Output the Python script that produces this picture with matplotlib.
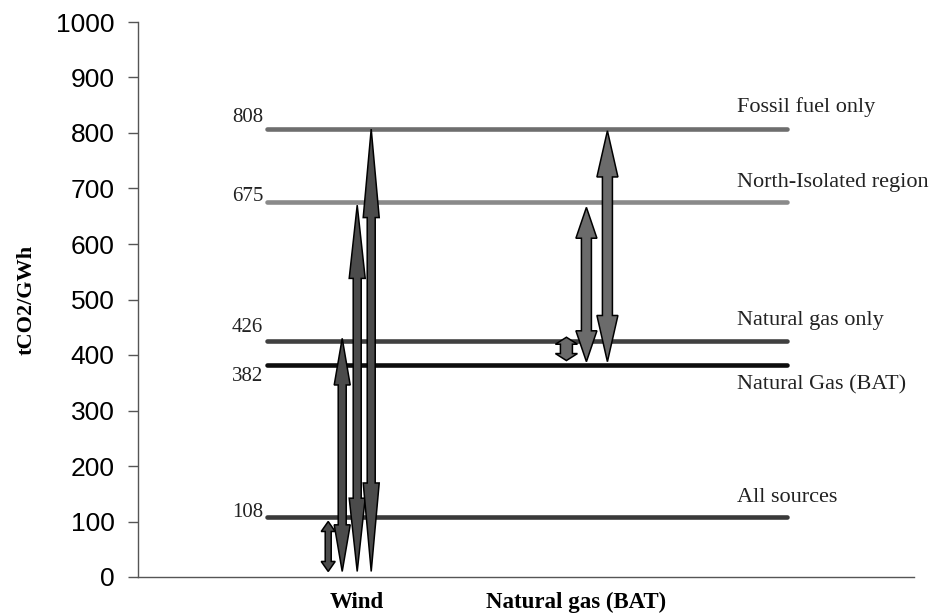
import matplotlib
matplotlib.use("Agg")
import matplotlib.pyplot as plt
from matplotlib.patches import Polygon

# ---- data ----
categories = ["Wind", "Natural gas (BAT)"]
ref_labels = ["Fossil fuel only", "North-Isolated region", "Natural gas only",
              "Natural Gas (BAT)", "All sources"]
ref_values = [808, 675, 426, 382, 108]
wind_low = [10, 10, 10, 10]
wind_high = [100, 430, 670, 807]
ng_low = [390, 388, 388]
ng_high = [432, 666, 804]
yticks = [0, 100, 200, 300, 400, 500, 600, 700, 800, 900, 1000]

# ---- styles ----
line_colors = ["#6e6e6e", "#8a8a8a", "#404040", "#0d0d0d", "#3a3a3a"]
label_dy = [11, 6, 13, -12, 5]        # pixel offsets of value labels
right_dy = [22, 20, 20, -20, 20]      # pixel offsets of right-side labels

W, H, DPI = 938, 613, 100
fig = plt.figure(figsize=(W / DPI, H / DPI), dpi=DPI)
left, right, bottom, top = 138, 914, 577, 22
ax = fig.add_axes([left / W, 1 - bottom / H, (right - left) / W, (bottom - top) / H])

cat_pos = [1, 2]
ax.set_xlim(0, 3.54)
ax.set_ylim(0, 1000)
px = 3.54 / (right - left)           # x data units per pixel
ypx = 1000 / (bottom - top)          # y data units per pixel

line_x0, line_x1 = 0.59, 2.96
ax.hlines(ref_values, line_x0, line_x1, colors=line_colors, linewidth=3.3,
          capstyle="round", zorder=2)

for v, lab, dy, rdy in zip(ref_values, ref_labels, label_dy, right_dy):
    ax.text(line_x0 - 4 * px, v + dy * ypx, str(v), ha="right", va="center",
            fontsize=15, family="Liberation Serif", color="#222222")
    ax.text(line_x1 - 50 * px, v + rdy * ypx, lab, ha="left", va="center",
            fontsize=16, family="Liberation Serif", color="#222222")


def double_arrow(xc, y0, y1, shaft_w, head_w, head_frac, fc):
    h = head_frac * (y1 - y0)
    s, w = shaft_w / 2, head_w / 2
    verts = [(xc, y1), (xc + w, y1 - h), (xc + s, y1 - h), (xc + s, y0 + h),
             (xc + w, y0 + h), (xc, y0), (xc - w, y0 + h), (xc - s, y0 + h),
             (xc - s, y1 - h), (xc - w, y1 - h)]
    ax.add_patch(Polygon(verts, closed=True, facecolor=fc, edgecolor="black",
                         linewidth=1.1, joinstyle="miter", zorder=3))


wind_off = [-29, -15, 0, 14]
wind_shaft = [6, 8, 8, 8]
wind_head = [14, 16, 16, 16]
for o, lo, hi, sw, hw in zip(wind_off, wind_low, wind_high, wind_shaft, wind_head):
    double_arrow(cat_pos[0] + o * px, lo, hi, sw * px, hw * px, 0.2, "#4b4b4b")

ng_off = [-10, 10, 31]
ng_shaft = [12, 10, 10]
ng_head = [22, 21, 21]
ng_frac = [0.3, 0.2, 0.2]
for o, lo, hi, sw, hw, fr in zip(ng_off, ng_low, ng_high, ng_shaft, ng_head, ng_frac):
    double_arrow(cat_pos[1] + o * px, lo, hi, sw * px, hw * px, fr, "#6b6b6b")

# axes styling
for s in ["top", "right"]:
    ax.spines[s].set_visible(False)
ax.spines["left"].set_color("#555555")
ax.spines["bottom"].set_color("#555555")
ax.spines["left"].set_linewidth(1.0)
ax.spines["bottom"].set_linewidth(1.0)

ax.set_yticks(yticks)
ax.set_yticklabels([str(t) for t in yticks], fontsize=19, family="Liberation Sans")
ax.tick_params(axis="y", direction="out", length=7, width=1, color="#555555", pad=10)
ax.set_xticks(cat_pos)
ax.set_xticklabels(categories, fontsize=16.5, family="Liberation Serif", fontweight="bold")
ax.tick_params(axis="x", length=0, pad=11)
ax.set_ylabel("tCO2/GWh", fontsize=16, family="Liberation Serif", fontweight="bold",
              labelpad=14)

fig.savefig("out.png", dpi=DPI)
